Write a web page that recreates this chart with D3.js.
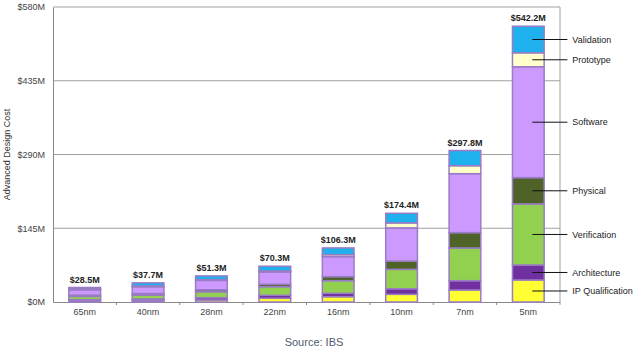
<!DOCTYPE html>
<meta charset="utf-8">
<style>
body { margin: 0; background: #fff; }
text { font-family: Arial, "Liberation Sans", sans-serif; }
</style>
<body>
<script src="https://cdn.jsdelivr.net/npm/d3@7"></script>
<script>

// Data ($M)
var nodes = ["65nm", "40nm", "28nm", "22nm", "16nm", "10nm", "7nm", "5nm"];
var totals = [28.5, 37.7, 51.3, 70.3, 106.3, 174.4, 297.8, 542.2];
var stages = ["IP Qualification", "Architecture", "Verification", "Physical", "Software", "Prototype", "Validation"];
var ipQualification = [1.5, 2.5, 4, 7.3, 10.4, 15.1, 23.6, 43.3];
var architecture    = [3, 3.5, 4.5, 5.9, 6.7, 11, 18.3, 29.5];
var verification    = [6.5, 7.5, 11.5, 16.9, 24.8, 38.1, 64.3, 120];
var physical        = [2.5, 3, 4, 4.7, 7.9, 16.3, 30.1, 51.7];
var software        = [10.5, 13.5, 18.5, 24.3, 39.4, 65.2, 116, 218];
var prototype       = [1.5, 1.5, 1.5, 2, 3.9, 9.8, 15.7, 27.5];
var validation      = [3, 6.2, 7.3, 9.2, 13.2, 18.9, 29.8, 52.2];
var yTicks = [0, 145, 290, 435, 580];

var colors = ["#ffff33", "#7030a0", "#92d050", "#4f6228", "#cc99ff", "#ffffcc", "#1fb0ee"];

var series = [ipQualification, architecture, verification, physical, software, prototype, validation];
var rows = nodes.map(function(n, i) {
  var r = {node: n};
  stages.forEach(function(s, k) { r[s] = series[k][i]; });
  return r;
});

var W = 639, H = 351;
var margin = {top: 7, right: 79, bottom: 49, left: 53},
    width = W - margin.left - margin.right,
    height = H - margin.top - margin.bottom;

var svg = d3.select("body").append("svg")
    .attr("width", W)
    .attr("height", H);

var g = svg.append("g")
    .attr("transform", "translate(" + margin.left + "," + margin.top + ")");

var x = d3.scaleBand().domain(nodes).range([0, width]).paddingInner(0.5).paddingOuter(0.25);
var xb = d3.scaleBand().domain(nodes).range([0, width]);
var y = d3.scaleLinear().domain([0, 580]).range([height, 0]);

// gridlines
g.selectAll(".grid")
    .data(yTicks.slice(1))
  .enter().append("line")
    .attr("x1", 0).attr("x2", width)
    .attr("y1", function(d) { return y(d); })
    .attr("y2", function(d) { return y(d); })
    .attr("stroke", "#a0a0a0")
    .attr("stroke-width", 1);

// right border
g.append("line")
    .attr("x1", width).attr("x2", width)
    .attr("y1", 0).attr("y2", height + 3)
    .attr("stroke", "#a0a0a0");

// y axis
var yAxis = g.append("g")
    .call(d3.axisLeft(y).tickValues(yTicks).tickSize(0).tickPadding(8)
      .tickFormat(function(d) { return "$" + d + "M"; }));
yAxis.select(".domain").attr("stroke", "#888");
yAxis.selectAll("text").attr("font-size", "9px").attr("fill", "#444")
    .style("font-family", "Arial, 'Liberation Sans', sans-serif");

// x axis
var xAxis = g.append("g")
    .attr("transform", "translate(0," + height + ")")
    .call(d3.axisBottom(x).tickSize(0).tickPadding(7));
xAxis.select(".domain").attr("stroke", "#888");
xAxis.selectAll("text").attr("font-size", "9px").attr("fill", "#444")
    .style("font-family", "Arial, 'Liberation Sans', sans-serif");

// boundary ticks below the axis
g.selectAll(".xtick")
    .data(nodes.slice(1))
  .enter().append("line")
    .attr("x1", function(d) { return xb(d); })
    .attr("x2", function(d) { return xb(d); })
    .attr("y1", height).attr("y2", height + 3)
    .attr("stroke", "#888");

// stacked bars
var stacked = d3.stack().keys(stages)(rows);

g.selectAll(".layer")
    .data(stacked)
  .enter().append("g")
    .attr("fill", function(d, i) { return colors[i]; })
  .selectAll("rect")
    .data(function(d) { return d; })
  .enter().append("rect")
    .attr("x", function(d) { return x(d.data.node); })
    .attr("width", x.bandwidth())
    .attr("y", function(d) { return y(d[1]); })
    .attr("height", function(d) { return y(d[0]) - y(d[1]); })
    .attr("stroke", "#9a7cc4")
    .attr("stroke-width", 1.5);

// totals
g.selectAll(".total")
    .data(nodes)
  .enter().append("text")
    .attr("x", function(d) { return x(d) + x.bandwidth() / 2; })
    .attr("y", function(d, i) { return y(totals[i]) - 5; })
    .attr("text-anchor", "middle")
    .attr("font-size", "9px")
    .attr("font-weight", "bold")
    .attr("fill", "#222")
    .text(function(d, i) { return "$" + totals[i] + "M"; });

// leader labels for the last bar
var last = stacked.map(function(s) { return s[s.length - 1]; });
var lx = x("5nm") + x.bandwidth() / 2 + 4;
var ann = g.selectAll(".ann")
    .data(last)
  .enter().append("g")
    .attr("transform", function(d) { return "translate(0," + y((d[0] + d[1]) / 2) + ")"; });
ann.append("line")
    .attr("x1", lx).attr("x2", lx + 35)
    .attr("stroke", "#111").attr("stroke-width", 1);
ann.append("text")
    .attr("x", lx + 40)
    .attr("dy", "0.35em")
    .attr("font-size", "9px")
    .attr("fill", "#222")
    .text(function(d, i) { return stages[i]; });

// y title
svg.append("text")
    .attr("transform", "translate(10," + (margin.top + height / 2) + ") rotate(-90)")
    .attr("text-anchor", "middle")
    .attr("font-size", "9px")
    .attr("fill", "#333")
    .text("Advanced Design Cost");

// source
svg.append("text")
    .attr("x", 314)
    .attr("y", 346)
    .attr("text-anchor", "middle")
    .attr("font-size", "11px")
    .attr("fill", "#505a6e")
    .text("Source: IBS");

</script>
</body>
